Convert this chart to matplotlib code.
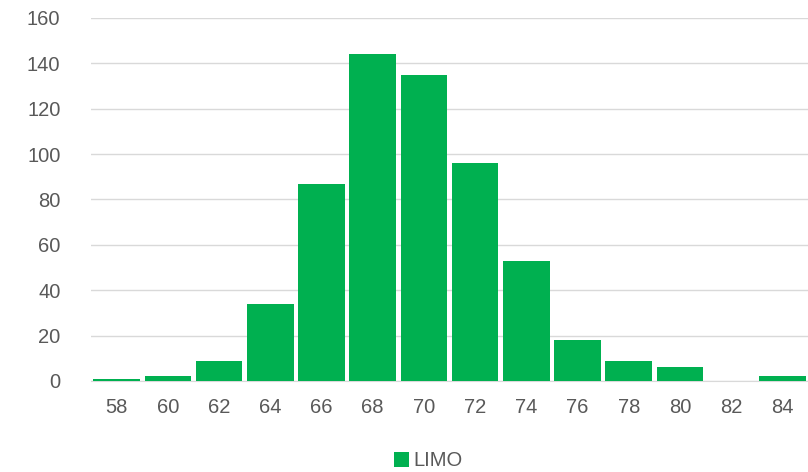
import numpy as np
import matplotlib.pyplot as plt

# data
bins = ['58', '60', '62', '64', '66', '68', '70', '72', '74', '76', '78', '80', '82', '84']
counts = [1, 2, 9, 34, 87, 144, 135, 96, 53, 18, 9, 6, 0, 2]
series_name = 'LIMO'

plt.rcParams['font.family'] = ['Liberation Sans', 'DejaVu Sans']

fig = plt.figure(figsize=(8.08, 4.72), dpi=100)
ax = fig.add_axes([0.1126, 0.1928, 0.8874, 0.7691])

x = np.arange(len(bins))
ax.bar(x, counts, width=0.91, color='#00b050', label=series_name, zorder=3)

ax.set_xlim(-0.5, len(bins) - 0.5)
ax.set_ylim(0, 160)
ax.set_yticks(range(0, 161, 20))
ax.set_xticks(x)
ax.set_xticklabels(bins)

ax.grid(axis='y', color='#d9d9d9', linewidth=1, zorder=0)
for s in ['top', 'right', 'left']:
    ax.spines[s].set_visible(False)
ax.spines['bottom'].set_color('#d9d9d9')
ax.tick_params(axis='both', length=0, labelsize=14.5, colors='#595959')
ax.tick_params(axis='x', pad=12)
ax.tick_params(axis='y', pad=22)

fig.legend(loc='lower center', bbox_to_anchor=(0.53, -0.035), frameon=False,
           fontsize=14.5, handlelength=0.75, handleheight=0.75, handletextpad=0.25,
           labelcolor='#595959')

fig.savefig('out.png', dpi=100)
